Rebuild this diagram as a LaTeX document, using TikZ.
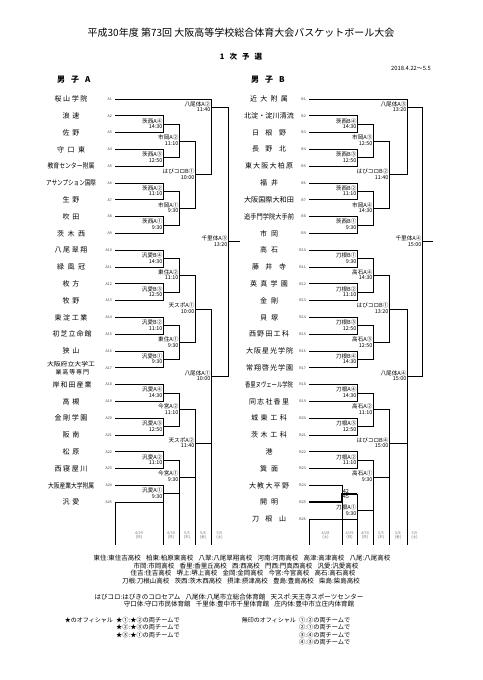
\documentclass[tikz,border=0pt]{standalone}
\usepackage{fontspec}
\setmainfont{Noto Sans CJK JP}
\newcommand\tnm[2]{\makebox[#1pt][s]{#2}}
\newcommand\tnc[2]{\resizebox{#1pt}{\height}{#2}}
\newcommand\teamA[2]{%
  \node[tname] (nA#1) at (71,{99+16.8*(#1-1)}) {#2};
  \node[tid] (iA#1) at (112,{99+16.8*(#1-1)}) {A#1};
  \coordinate (tA#1) at (115,{99+16.8*(#1-1)});}
\newcommand\teamB[2]{%
  \node[tname] (nB#1) at (269,{99+16.8*(#1-1)}) {#2};
  \node[tid] (iB#1) at (306,{99+16.8*(#1-1)}) {B#1};
  \coordinate (tB#1) at (309,{99+16.8*(#1-1)});}
\newcommand\mtch[7]{%
  \coordinate (#1) at (#4,{99+8.4*#5});
  \draw[ln] (#2) -| (#1 |- #3) -- (#3);
  \node[mlab] (#1l) at (#1) {#6};
  \node[mtim] (#1t) at (#1) {#7};}
\begin{document}
\begin{tikzpicture}[x=1pt,y=-1pt,
  ln/.style={line width=0.8pt},
  winln/.style={line width=1.8pt},
  tname/.style={font=\fontsize{7}{8}\selectfont, inner sep=0pt},
  tid/.style={font=\fontsize{3.6}{4}\selectfont, text=black!75, anchor=east, inner sep=0pt},
  mlab/.style={font=\fontsize{5.6}{6}\selectfont, anchor=south east, inner sep=0.4pt},
  mtim/.style={font=\fontsize{5.4}{6}\selectfont, anchor=north east, inner sep=0.4pt},
  score/.style={font=\fontsize{5.6}{6}\selectfont, inner sep=0.6pt},
  dlab/.style={font=\fontsize{3.8}{4}\selectfont, text=black!55, inner sep=0pt},
  leg/.style={font=\fontsize{6.5}{7}\selectfont, inner sep=0pt},
  off/.style={font=\fontsize{6.2}{7}\selectfont, inner sep=0pt, anchor=west},
  offh/.style={font=\fontsize{6}{7}\selectfont, inner sep=0pt, anchor=east},
]
\useasboundingbox (0,0) rectangle (482,680);

% header
\node[font=\fontsize{10}{12}\selectfont] (title) at (241,33) {平成30年度 第73回 大阪高等学校総合体育大会バスケットボール大会};
\node[font=\fontsize{7.5}{9}\bfseries] (sub) at (241,57) {1\hspace{5pt}次\hspace{5pt}予\hspace{5pt}選};
\node[font=\fontsize{5.8}{7}\selectfont, anchor=east, inner sep=0pt] (date) at (431,68) {2018.4.22～5.5};
\node[font=\fontsize{8}{9}\bfseries, anchor=west, inner sep=0pt] (hA) at (57,80) {男\hspace{6pt}子\hspace{6pt}A};
\node[font=\fontsize{8}{9}\bfseries, anchor=west, inner sep=0pt] (hB) at (251,80) {男\hspace{6pt}子\hspace{6pt}B};

% teams A
\teamA{1}{\tnm{33}{桜 山 学 院}}
\teamA{2}{\tnm{17}{浪 速}}
\teamA{3}{\tnm{17}{佐 野}}
\teamA{4}{\tnm{28}{守 口 東}}
\teamA{5}{\tnc{47}{教育センター附属}}
\teamA{6}{\tnc{50}{アサンプション国際}}
\teamA{7}{\tnm{17}{生 野}}
\teamA{8}{\tnm{17}{吹 田}}
\teamA{9}{\tnm{28}{茨 木 西}}
\teamA{10}{\tnm{33}{八 尾 翠 翔}}
\teamA{11}{\tnm{28}{緑 風 冠}}
\teamA{12}{\tnm{17}{枚 方}}
\teamA{13}{\tnm{17}{牧 野}}
\teamA{14}{\tnm{33}{東 淀 工 業}}
\teamA{15}{\tnm{37}{初 芝 立 命 館}}
\teamA{16}{\tnm{17}{狭 山}}
\teamA{17}{}
\node[font=\fontsize{6}{8}\selectfont, inner sep=0pt, align=center] (nA17b) at (71,{99+16.8*16}) {\tnc{48}{大阪府立大学工}\\\tnm{31}{業 高 等 専 門}};
\teamA{18}{\tnm{37}{岸 和 田 産 業}}
\teamA{19}{\tnm{17}{高 槻}}
\teamA{20}{\tnm{33}{金 剛 学 園}}
\teamA{21}{\tnm{17}{阪 南}}
\teamA{22}{\tnm{17}{松 原}}
\teamA{23}{\tnm{33}{西 寝 屋 川}}
\teamA{24}{\tnc{46}{大阪産業大学附属}}
\teamA{25}{\tnm{17}{汎 愛}}

% teams B
\teamB{1}{\tnm{38}{近 大 附 属}}
\teamB{2}{\tnc{50}{北淀・淀川清流}}
\teamB{3}{\tnm{34}{日 根 野}}
\teamB{4}{\tnm{34}{長 野 北}}
\teamB{5}{\tnm{48}{東 大 阪 大 柏 原}}
\teamB{6}{\tnm{18}{福 井}}
\teamB{7}{\tnc{50}{大阪国際大和田}}
\teamB{8}{\tnc{50}{追手門学院大手前}}
\teamB{9}{\tnm{18}{市 岡}}
\teamB{10}{\tnm{18}{高 石}}
\teamB{11}{\tnm{34}{藤 井 寺}}
\teamB{12}{\tnm{38}{英 真 学 園}}
\teamB{13}{\tnm{18}{金 剛}}
\teamB{14}{\tnm{18}{貝 塚}}
\teamB{15}{\tnm{40}{西 野 田 工 科}}
\teamB{16}{\tnm{46}{大 阪 星 光 学 院}}
\teamB{17}{\tnm{46}{常 翔 啓 光 学 園}}
\teamB{18}{\tnc{48}{香里ヌヴェール学院}}
\teamB{19}{\tnm{40}{同 志 社 香 里}}
\teamB{20}{\tnm{36}{城 東 工 科}}
\teamB{21}{\tnm{36}{茨 木 工 科}}
\teamB{22}{港}
\teamB{23}{\tnm{18}{箕 面}}
\teamB{24}{\tnm{40}{大 教 大 平 野}}
\teamB{25}{\tnm{18}{開 明}}
\teamB{26}{\tnm{34}{刀 根 山}}

% bracket A
\mtch{a1}{tA2}{tA3}{163}{3}{茨西A④}{14:30}
\mtch{a2}{tA4}{tA5}{163}{7}{茨西A③}{12:50}
\mtch{a3}{tA6}{tA7}{163}{11}{茨西A②}{11:10}
\mtch{a4}{tA8}{tA9}{163}{15}{茨西A①}{9:30}
\mtch{a5}{tA10}{tA11}{163}{19}{汎愛B④}{14:30}
\mtch{a6}{tA12}{tA13}{163}{23}{汎愛B③}{12:50}
\mtch{a7}{tA14}{tA15}{163}{27}{汎愛B②}{11:10}
\mtch{a8}{tA16}{tA17}{163}{31}{汎愛B①}{9:30}
\mtch{a9}{tA18}{tA19}{163}{35}{汎愛A④}{14:30}
\mtch{a10}{tA20}{tA21}{163}{39}{汎愛A③}{12:50}
\mtch{a11}{tA22}{tA23}{163}{43}{汎愛A②}{11:10}
\mtch{a12}{tA24}{tA25}{163}{47}{汎愛A①}{9:30}
\mtch{a13}{a1}{a2}{179}{5}{市岡A②}{11:10}
\mtch{a14}{a3}{a4}{179}{13}{市岡A①}{9:30}
\mtch{a15}{a5}{a6}{179}{21}{東住A②}{11:10}
\mtch{a16}{a7}{a8}{179}{29}{東住A①}{9:30}
\mtch{a17}{a9}{a10}{179}{37}{今宮A②}{11:10}
\mtch{a18}{a11}{a12}{179}{45}{今宮A①}{9:30}
\mtch{a19}{a13}{a14}{195}{9}{はびコロB①}{10:00}
\mtch{a20}{a15}{a16}{195}{25}{天スポA①}{10:00}
\mtch{a21}{a17}{a18}{195}{41}{天スポA②}{11:40}
\mtch{a22}{tA1}{a19}{211}{1}{八尾体A②}{11:40}
\mtch{a23}{a20}{a21}{211}{33}{八尾体A①}{10:00}
\mtch{a24}{a22}{a23}{228}{17}{千里体A③}{13:20}
\coordinate (endA) at (240,{99+8.4*17});
\draw[ln] (a24) -- (endA);

% bracket B
\mtch{b1}{tB2}{tB3}{357}{3}{茨西B④}{14:30}
\mtch{b2}{tB4}{tB5}{357}{7}{茨西B③}{12:50}
\mtch{b3}{tB6}{tB7}{357}{11}{茨西B②}{11:10}
\mtch{b4}{tB8}{tB9}{357}{15}{茨西B①}{9:30}
\mtch{b5}{tB10}{tB11}{357}{19}{刀根B①}{9:30}
\mtch{b6}{tB12}{tB13}{357}{23}{刀根B②}{11:10}
\mtch{b7}{tB14}{tB15}{357}{27}{刀根B③}{12:50}
\mtch{b8}{tB16}{tB17}{357}{31}{刀根B④}{14:30}
\mtch{b9}{tB18}{tB19}{357}{35}{刀根A④}{14:30}
\mtch{b10}{tB20}{tB21}{357}{39}{刀根A③}{12:50}
\mtch{b11}{tB22}{tB23}{357}{43}{刀根A②}{11:10}
\coordinate (bp) at (342,{99+8.4*47});
\coordinate (bpo) at (357,{99+8.4*47});
\draw[ln] (tB24) -| (bp);
\draw[winln] (tB25) -| (bp) -- (bpo);
\node[score, anchor=south west] (s42) at (bp) {42};
\node[score, anchor=north west] (s45) at (bp) {45};
\mtch{b12}{bpo}{tB26}{357}{49}{刀根A①}{9:30}
\mtch{b13}{b1}{b2}{373}{5}{市岡A③}{12:50}
\mtch{b14}{b3}{b4}{373}{13}{市岡A④}{14:30}
\mtch{b15}{b5}{b6}{373}{21}{高石A④}{14:30}
\mtch{b16}{b7}{b8}{373}{29}{高石A③}{12:50}
\mtch{b17}{b9}{b10}{373}{37}{高石A②}{11:10}
\mtch{b18}{b11}{b12}{373}{45}{高石A①}{9:30}
\mtch{b19}{b13}{b14}{389}{9}{はびコロB②}{11:40}
\mtch{b20}{b15}{b16}{389}{25}{はびコロB①}{13:20}
\mtch{b21}{b17}{b18}{389}{41}{はびコロB④}{15:00}
\mtch{b22}{tB1}{b19}{407}{1}{八尾体A③}{13:20}
\mtch{b23}{b20}{b21}{407}{33}{八尾体A④}{15:00}
\mtch{b24}{b22}{b23}{422}{17}{千里体A④}{15:00}
\coordinate (endB) at (433,{99+8.4*17});
\draw[ln] (b24) -- (endB);

% date grid
\coordinate (gb) at (0,545);
\draw[ln] (tA25) -- (tA25 |- gb);
\draw[ln] (a12 |- tA25) -- (a12 |- gb);
\draw[ln] (a18 |- a12) -- (a18 |- gb);
\draw[ln] (a21 |- a18) -- (a21 |- gb);
\draw[ln] (a23 |- a21) -- (a23 |- gb);
\draw[ln] (tB26) -- (tB26 |- gb);
\draw[ln] (bp |- tB25) -- (bp |- gb);
\draw[ln] (b12 |- tB26) -- (b12 |- gb);
\draw[ln] (b18 |- b12) -- (b18 |- gb);
\draw[ln] (b21 |- b18) -- (b21 |- gb);
\draw[ln] (b23 |- b21) -- (b23 |- gb);

\node[dlab, align=center] (dA1) at (139,535) {4/29\\(日)};
\node[dlab, align=center] (dA2) at (171,535) {4/30\\(月)};
\node[dlab, align=center] (dA3) at (187,535) {5/3\\(木)};
\node[dlab, align=center] (dA4) at (203,535) {5/4\\(金)};
\node[dlab, align=center] (dA5) at (219.5,535) {5/5\\(土)};
\node[dlab, align=center] (dB0) at (325.5,535) {4/28\\(土)};
\node[dlab, align=center] (dB1) at (349.5,535) {4/29\\(日)};
\node[dlab, align=center] (dB2) at (365,535) {4/30\\(月)};
\node[dlab, align=center] (dB3) at (381,535) {5/3\\(木)};
\node[dlab, align=center] (dB4) at (398,535) {5/4\\(金)};
\node[dlab, align=center] (dB5) at (414.5,535) {5/5\\(土)};

% legend
\node[leg] (L1) at (242,558) {東住:東住吉高校\hspace{0.8em}柏東:柏原東高校\hspace{0.8em}八翠:八尾翠翔高校\hspace{0.8em}河南:河南高校\hspace{0.8em}高津:高津高校\hspace{0.8em}八尾:八尾高校};
\node[leg] (L2) at (246,566) {市岡:市岡高校\hspace{0.8em}香里:香里丘高校\hspace{0.8em}西:西高校\hspace{0.8em}門西:門真西高校\hspace{0.8em}汎愛:汎愛高校};
\node[leg] (L3) at (243,573.5) {住吉:住吉高校\hspace{0.8em}堺上:堺上高校\hspace{0.8em}金岡:金岡高校\hspace{0.8em}今宮:今宮高校\hspace{0.8em}高石:高石高校};
\node[leg] (L4) at (241,581) {刀根:刀根山高校\hspace{0.8em}茨西:茨木西高校\hspace{0.8em}摂津:摂津高校\hspace{0.8em}豊島:豊島高校\hspace{0.8em}柴島:柴島高校};
\node[leg] (L5) at (229,597) {はびコロ:はびきのコロセアム\hspace{0.8em}八尾体:八尾市立総合体育館\hspace{0.8em}天スポ:天王寺スポーツセンター};
\node[leg] (L6) at (239,604.5) {守口体:守口市民体育館\hspace{0.8em}千里体:豊中市千里体育館\hspace{0.8em}庄内体:豊中市立庄内体育館};

% officials
\node[offh] (o0) at (113,620) {★のオフィシャル};
\node[off] (o1) at (116,620) {★①:★②の両チームで};
\node[off] (o2) at (116,627.5) {★②:★③の両チームで};
\node[off] (o3) at (116,635) {★③:★①の両チームで};
\node[offh] (p0) at (296,620) {無印のオフィシャル};
\node[off] (p1) at (299,620) {①:②の両チームで};
\node[off] (p2) at (299,627.5) {②:①の両チームで};
\node[off] (p3) at (299,635) {③:④の両チームで};
\node[off] (p4) at (299,642.5) {④:③の両チームで};
\end{tikzpicture}
\end{document}
